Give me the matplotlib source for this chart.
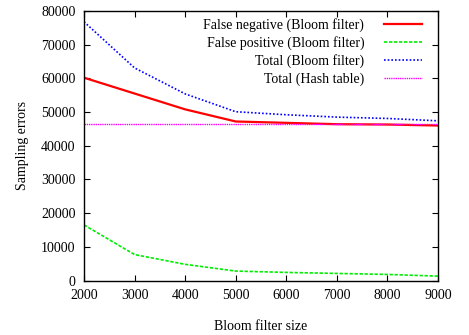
import matplotlib
matplotlib.use("Agg")
import matplotlib.pyplot as plt

plt.rcParams['font.family'] = ['Liberation Serif', 'DejaVu Serif']

# data
sizes = [2000, 3000, 4000, 5000, 6000, 7000, 8000, 9000]
false_neg = [60200, 55500, 50800, 47200, 46800, 46400, 46300, 46000]
false_pos = [16500, 7700, 4800, 2800, 2400, 2100, 1800, 1300]
total_bloom = [76800, 63100, 55400, 50100, 49200, 48500, 48100, 47400]
hash_total = [46500] * len(sizes)

fig = plt.figure(figsize=(4.69, 3.35), dpi=100)
ax = fig.add_axes([84 / 469, 1 - 280.5 / 335, (438 - 84) / 469, (280.5 - 11) / 335])

ax.plot(sizes, false_neg, color='#ff0000', linestyle='-', linewidth=1.6,
        label='False negative (Bloom filter)')
ax.plot(sizes, false_pos, color='#00ee00', linestyle=(0, (2, 1)), linewidth=1.2,
        label='False positive (Bloom filter)')
ax.plot(sizes, total_bloom, color='#0000ff', linestyle=(0, (1, 1.2)), linewidth=1.2,
        label='Total (Bloom filter)')
ax.plot(sizes, hash_total, color='#ff00ff', linestyle=(0, (1, 0.6)), linewidth=1.0,
        label='Total (Hash table)')

ax.set_xlim(2000, 9000)
ax.set_ylim(0, 80000)
ax.set_xticks(range(2000, 9001, 1000))
ax.set_yticks(range(0, 80001, 10000))
ax.tick_params(direction='in', top=True, right=True, labelsize=10, length=4,
               width=0.8, pad=6)
for s in ax.spines.values():
    s.set_linewidth(1.0)

ax.set_xlabel('Bloom filter size', fontsize=10, labelpad=13)
ax.set_ylabel('Sampling errors', fontsize=10, labelpad=9)

leg = ax.legend(loc='upper right', bbox_to_anchor=(0.970, 0.995), borderaxespad=0,
                frameon=False, markerfirst=False, fontsize=10,
                handlelength=2.7, handletextpad=1.45, labelspacing=0.3)
for t in leg.get_texts():
    t.set_ha('right')
leg._legend_box.align = 'right'

fig.savefig('out.png', dpi=100)
